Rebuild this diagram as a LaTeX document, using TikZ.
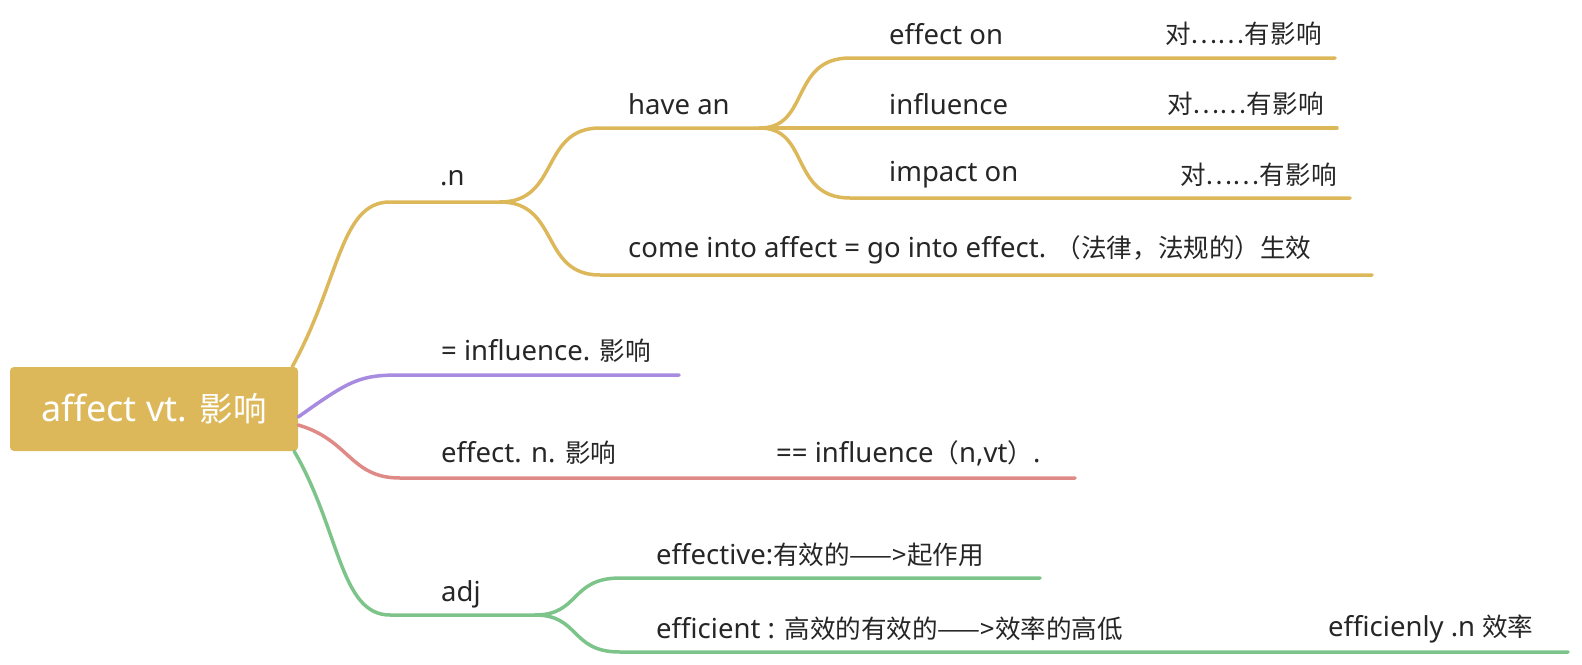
\documentclass[tikz,border=0pt]{standalone}
\usepackage{fontspec}
\setmainfont{Noto Sans}
\newfontfamily\cjk[Scale=0.93]{Noto Sans CJK SC}
\newcommand{\zh}[1]{{\cjk #1}}
\begin{document}
\begin{tikzpicture}[x=1pt,y=-1pt,
  lbl/.style={anchor=west,inner sep=0pt,font=\fontsize{27.5}{30}\selectfont,text=black!85},
  br/.style={line width=3.5pt,line cap=round},
  gold/.style={draw=cgold},purp/.style={draw=cpurp},redl/.style={draw=cred},grn/.style={draw=cgrn}]
\definecolor{cgold}{HTML}{DDB85B}
\definecolor{cpurp}{HTML}{A78BE0}
\definecolor{cred}{HTML}{E08A87}
\definecolor{cgrn}{HTML}{7DC48A}
\useasboundingbox (0,0) rectangle (1582,664);
\node[fill=cgold,rounded corners=4pt,minimum width=288pt,minimum height=84pt,inner sep=0pt,text=white,font=\fontsize{36}{40}\selectfont] (root) at (154,409) {affect vt. \zh{影响}};
\coordinate (n0) at (390,202); \coordinate (n1) at (500,202);
\coordinate (h0) at (600,128); \coordinate (h1) at (760,128);
\coordinate (e0) at (850,58); \coordinate (e1) at (1335,58);
\coordinate (i0) at (850,128); \coordinate (i1) at (1337,128);
\coordinate (m0) at (850,198); \coordinate (m1) at (1350,198);
\coordinate (c0) at (600,275); \coordinate (c1) at (1372,275);
\coordinate (p0) at (400,375); \coordinate (p1) at (679,375);
\coordinate (r0) at (400,478); \coordinate (r1) at (1075,478);
\coordinate (g0) at (390,615); \coordinate (g1) at (535,615);
\coordinate (a0) at (620,578); \coordinate (a1) at (1040,578);
\coordinate (b0) at (620,652); \coordinate (b1) at (1568,652);
\draw[br,gold] ([xshift=-6pt]root.north east) .. controls (340,280) and (340,202) .. (n0) -- (n1);
\draw[br,gold] (n1) .. controls (560,202) and (540,128) .. (h0) -- (h1);
\draw[br,gold] (n1) .. controls (560,202) and (540,275) .. (c0) -- (c1);
\draw[br,gold] (h1) .. controls (810,128) and (790,58) .. (e0) -- (e1);
\draw[br,gold] (h1) -- (i0) -- (i1);
\draw[br,gold] (h1) .. controls (810,128) and (790,198) .. (m0) -- (m1);
\draw[br,purp] ([yshift=-8pt]root.east) .. controls (350,380) and (360,375) .. (p0) -- (p1);
\draw[br,redl] ([yshift=-16pt]root.east) .. controls (350,440) and (350,478) .. (r0) -- (r1);
\draw[br,grn] ([xshift=-4pt]root.south east) .. controls (340,530) and (340,615) .. (g0) -- (g1);
\draw[br,grn] (g1) .. controls (580,615) and (570,578) .. (a0) -- (a1);
\draw[br,grn] (g1) .. controls (580,615) and (570,652) .. (b0) -- (b1);
\node[lbl] (ln) at (440,178) {.n};
\node[lbl] (lh) at (628,104) {have an};
\node[lbl] (le) at (889,34) {effect on};
\node[lbl] (le2) at (1165,34) {\zh{对……有影响}};
\node[lbl] (li) at (889,104) {influence};
\node[lbl] (li2) at (1167,104) {\zh{对……有影响}};
\node[lbl] (lm) at (889,175) {impact on};
\node[lbl] (lm2) at (1180,175) {\zh{对……有影响}};
\node[lbl] (lc) at (628,250) {come into affect = go into effect. \zh{（法律，法规的）生效}};
\node[lbl] (lp) at (441,351) {= influence. \zh{影响}};
\node[lbl] (lr) at (441,453) {effect. n. \zh{影响}};
\node[lbl] (lr2) at (776,453) {== influence\zh{（}n,vt\zh{）}.};
\node[lbl] (lg) at (441,594) {adj};
\node[lbl] (la) at (656,555) {effective:\zh{有效的——>起作用}};
\node[lbl] (lb) at (656,629) {efficient : \zh{高效的有效的——>效率的高低}};
\node[lbl] (lb2) at (1328,629) {efficienly .n \zh{效率}};
\end{tikzpicture}
\end{document}
